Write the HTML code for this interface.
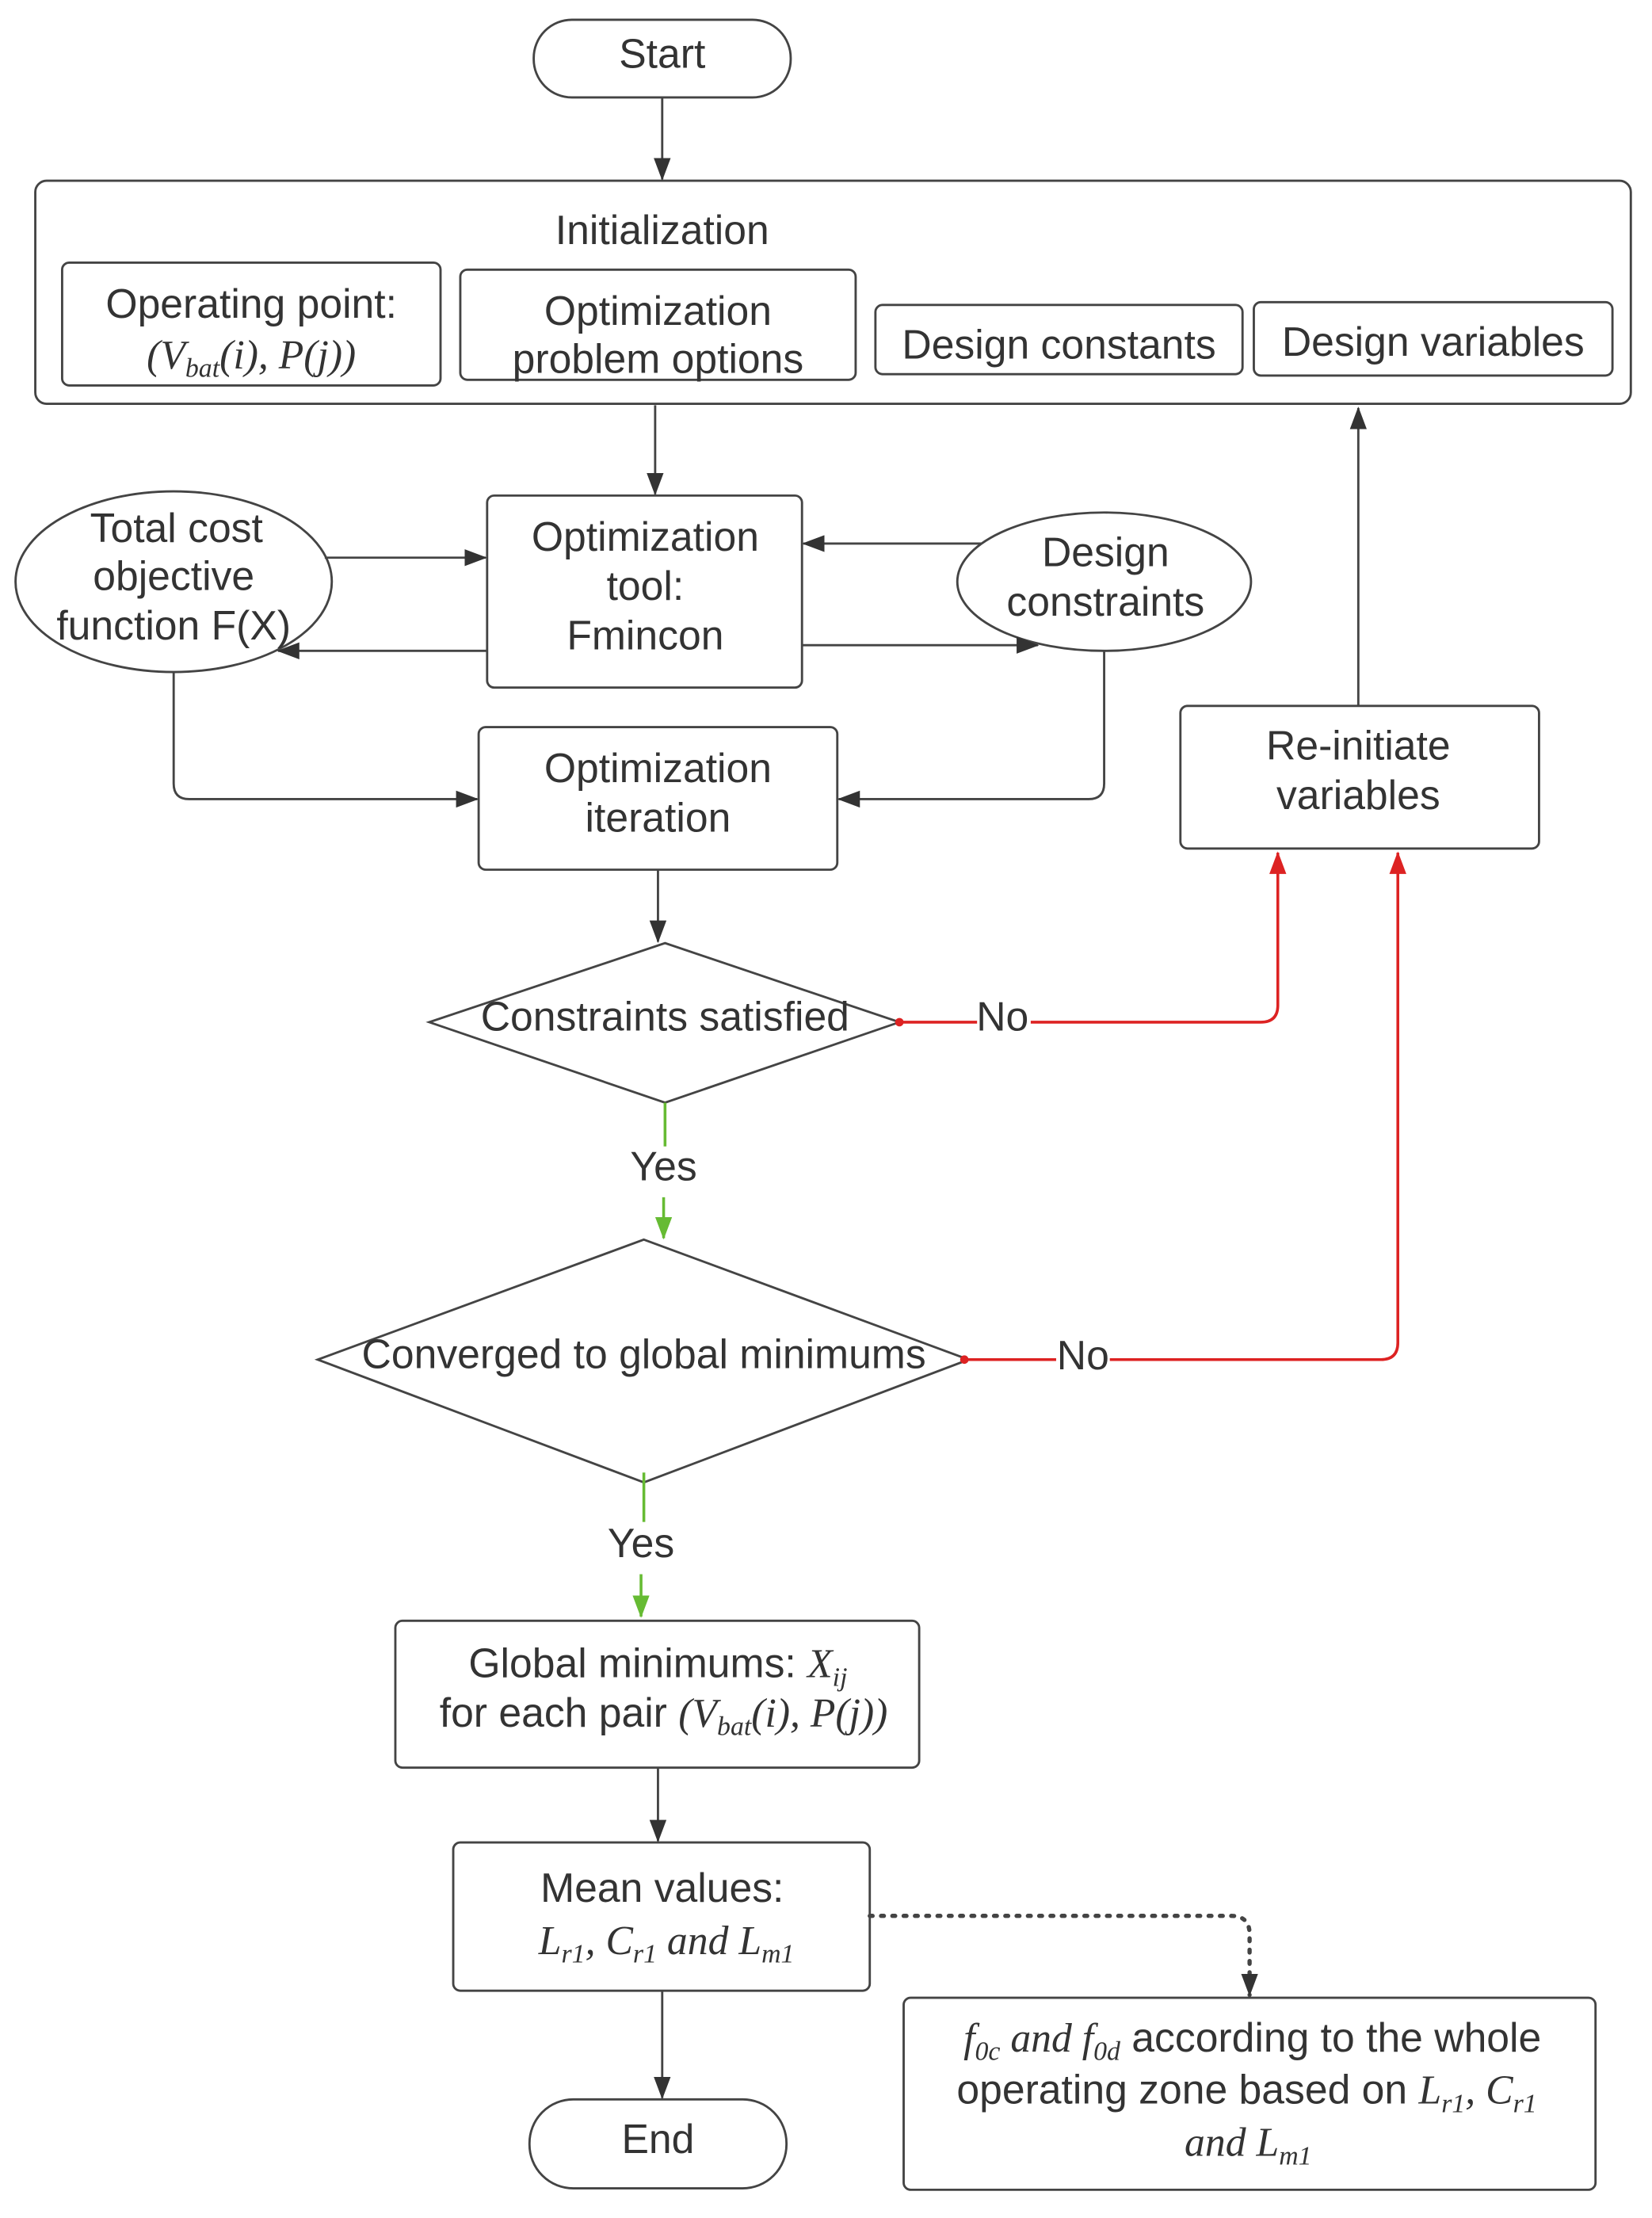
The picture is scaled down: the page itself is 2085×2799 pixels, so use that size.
<!DOCTYPE html>
<html><head><meta charset="utf-8"><style>
html,body{margin:0;padding:0;background:#fff;}
svg{display:block;}
text{font-family:"Liberation Sans",sans-serif;font-size:29px;fill:#333;text-anchor:middle;}
.m{font-family:"Liberation Serif",serif;font-style:italic;}
</style></head><body>
<svg width="2085" height="2799" viewBox="0 0 1170 1571" preserveAspectRatio="none" xmlns="http://www.w3.org/2000/svg">
<defs>
<marker id="a" markerWidth="16" markerHeight="12" refX="15" refY="6" orient="auto" markerUnits="userSpaceOnUse"><path d="M0,0 L16,6 L0,12 z" fill="#333"/></marker>
<marker id="r" markerWidth="16" markerHeight="12" refX="15" refY="6" orient="auto" markerUnits="userSpaceOnUse"><path d="M0,0 L16,6 L0,12 z" fill="#d22"/></marker>
<marker id="g" markerWidth="16" markerHeight="12" refX="15" refY="6" orient="auto" markerUnits="userSpaceOnUse"><path d="M0,0 L16,6 L0,12 z" fill="#6b3"/></marker>
</defs>
<g fill="none" stroke="#444" stroke-width="1.6">
<rect x="378" y="14" width="182" height="55" rx="27"/>
<rect x="25" y="128" width="1130" height="158" rx="8"/>
<rect x="44" y="186" width="268" height="87" rx="5"/>
<rect x="326" y="191" width="280" height="78" rx="5"/>
<rect x="620" y="216" width="260" height="49" rx="5"/>
<rect x="888" y="214" width="254" height="52" rx="5"/>
<rect x="345" y="351" width="223" height="136" rx="5"/>
<ellipse cx="123" cy="412" rx="112" ry="64"/>
<ellipse cx="782" cy="412" rx="104" ry="49"/>
<rect x="339" y="515" width="254" height="101" rx="5"/>
<rect x="836" y="500" width="254" height="101" rx="5"/>
<polygon points="471,668 637,724 471,781 304,724"/>
<polygon points="456,878 686,963 456,1050 225,963"/>
<rect x="280" y="1148" width="371" height="104" rx="5"/>
<rect x="321" y="1305" width="295" height="105" rx="5"/>
<rect x="640" y="1415" width="490" height="136" rx="5"/>
<rect x="375" y="1487" width="182" height="63" rx="31"/>
</g>
<g fill="none" stroke="#444" stroke-width="1.6" marker-end="url(#a)">
<path d="M469,69 V127"/>
<path d="M464,287 V350"/>
<path d="M230,395 H344"/>
<path d="M345,461 H197"/>
<path d="M695,385 H569"/>
<path d="M568,457 H735"/>
<path d="M123,476 V555 Q123,566 134,566 H338"/>
<path d="M782,461 V555 Q782,566 771,566 H594"/>
<path d="M466,616 V667"/>
<path d="M962,500 V289"/>
<path d="M466,1252 V1304"/>
<path d="M469,1410 V1486"/>
<path d="M616,1357 H872 Q885,1357 885,1370 V1413" stroke-dasharray="2,6" stroke-width="3" stroke-linecap="round"/>
</g>
<g fill="none" stroke="#d22" stroke-width="2" marker-end="url(#r)">
<path d="M637,724 H893 Q905,724 905,712 V604"/>
<path d="M686,963 H978 Q990,963 990,951 V604"/>
</g>
<circle cx="637" cy="724" r="3" fill="#d22"/><circle cx="683" cy="963" r="3" fill="#d22"/>
<g fill="none" stroke="#6b3" stroke-width="2">
<path d="M471,781 V812"/><path d="M470,848 V877" marker-end="url(#g)"/>
<path d="M456,1043 V1078"/><path d="M454,1115 V1145" marker-end="url(#g)"/>
</g>
<rect x="692" y="708" width="38" height="28" fill="#fff"/>
<rect x="748" y="948" width="38" height="28" fill="#fff"/>
<text x="469" y="48">Start</text>
<text x="469" y="173">Initialization</text>
<text x="178" y="225">Operating point:</text>
<text x="178" y="261" class="m">(V<tspan font-size="19" dy="6">bat</tspan><tspan dy="-6">(i), P(j))</tspan></text>
<text x="466" y="230">Optimization</text>
<text x="466" y="264">problem options</text>
<text x="750" y="254">Design constants</text>
<text x="1015" y="252">Design variables</text>
<text x="457" y="390">Optimization</text>
<text x="457" y="425">tool:</text>
<text x="457" y="460">Fmincon</text>
<text x="125" y="384">Total cost</text>
<text x="123" y="418">objective</text>
<text x="123" y="453">function F(X)</text>
<text x="783" y="401">Design</text>
<text x="783" y="436">constraints</text>
<text x="466" y="554">Optimization</text>
<text x="466" y="589">iteration</text>
<text x="962" y="538">Re-initiate</text>
<text x="962" y="573">variables</text>
<text x="471" y="730">Constraints satisfied</text>
<text x="710" y="730">No</text>
<text x="470" y="836">Yes</text>
<text x="456" y="969">Converged to global minimums</text>
<text x="767" y="970">No</text>
<text x="454" y="1103">Yes</text>
<text x="466" y="1188">Global minimums: <tspan class="m">X</tspan><tspan class="m" font-size="19" dy="6">ij</tspan></text>
<text x="470" y="1223">for each pair <tspan class="m">(V</tspan><tspan class="m" font-size="19" dy="6">bat</tspan><tspan class="m" dy="-6">(i), P(j))</tspan></text>
<text x="469" y="1347">Mean values:</text>
<text x="472" y="1384" class="m">L<tspan font-size="19" dy="6">r1</tspan><tspan dy="-6">, C</tspan><tspan font-size="19" dy="6">r1</tspan><tspan dy="-6"> and L</tspan><tspan font-size="19" dy="6">m1</tspan></text>
<text x="887" y="1453"><tspan class="m">f</tspan><tspan class="m" font-size="19" dy="6">0c</tspan><tspan class="m" dy="-6"> and f</tspan><tspan class="m" font-size="19" dy="6">0d</tspan><tspan dy="-6"> according to the whole</tspan></text>
<text x="883" y="1490">operating zone based on <tspan class="m">L</tspan><tspan class="m" font-size="19" dy="6">r1</tspan><tspan class="m" dy="-6">, C</tspan><tspan class="m" font-size="19" dy="6">r1</tspan></text>
<text x="884" y="1527" class="m">and L<tspan font-size="19" dy="6">m1</tspan></text>
<text x="466" y="1525">End</text>
</svg>
</body></html>
